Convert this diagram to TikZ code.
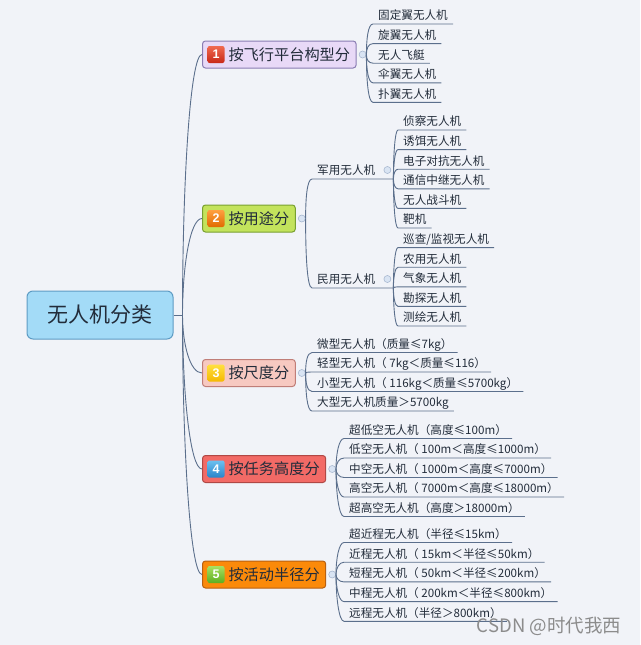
\documentclass[tikz,border=0pt]{standalone}
\usepackage{fontspec}
\setmainfont{Noto Sans CJK SC}
\newfontfamily\digitfont{Liberation Sans}
\usepackage{xcolor}
\usetikzlibrary{calc}
\definecolor{bgc}{HTML}{F1F3F8}
\definecolor{wirec}{HTML}{5B6F8C}
\definecolor{txt}{HTML}{222C3A}
\definecolor{rootfill}{HTML}{A3DBF7}
\definecolor{rootline}{HTML}{5E9CC4}
\definecolor{knobfill}{HTML}{D9E4F3}
\definecolor{knobline}{HTML}{A8B8D0}
\definecolor{fillA}{HTML}{E8D9F7}\definecolor{lineA}{HTML}{8A7DB3}
\definecolor{fillB}{HTML}{C3E35C}\definecolor{lineB}{HTML}{78A030}
\definecolor{fillC}{HTML}{F7C9C1}\definecolor{lineC}{HTML}{C07E78}
\definecolor{fillD}{HTML}{F26A66}\definecolor{lineD}{HTML}{B04845}
\definecolor{fillE}{HTML}{FB8A0A}\definecolor{lineE}{HTML}{B86010}
\definecolor{iconAt}{HTML}{F06A50}\definecolor{iconAb}{HTML}{C82818}
\definecolor{iconBt}{HTML}{FFA040}\definecolor{iconBb}{HTML}{E06A00}
\definecolor{iconCt}{HTML}{FFE040}\definecolor{iconCb}{HTML}{F5B800}
\definecolor{iconDt}{HTML}{6CC0F0}\definecolor{iconDb}{HTML}{2A84C8}
\definecolor{iconEt}{HTML}{A8E060}\definecolor{iconEb}{HTML}{5CAE20}
\newcommand{\leaffont}{\fontsize{11.6pt}{13pt}\selectfont}
\newcommand{\branchfont}{\fontsize{15.2pt}{18pt}\selectfont}
\newcommand{\rootfont}{\fontsize{21pt}{24pt}\selectfont}
\newcommand{\iconfont}{\digitfont\bfseries\fontsize{12.5pt}{13pt}\selectfont}
\newcommand{\markfont}{\fontsize{18.5pt}{20pt}\selectfont}

\begin{document}
\begin{tikzpicture}[x=1pt,y=-1pt,font=\leaffont,
  wire/.style={draw=wirec,line width=0.9pt},
  twig/.style={to path={.. controls ($(\tikztostart)!0.5!(\tikztostart|-\tikztotarget)$) and ($(\tikztotarget)+(-#1,0)$) .. (\tikztotarget)}},
  twig/.default=12,
  rootbox/.style={draw=rootline,fill=rootfill,line width=1pt,rounded corners=6pt,minimum width=146pt,minimum height=48pt,font=\rootfont,text=txt},
  branch/.style={fill=fill#1,draw=line#1,line width=1pt,rounded corners=3pt,minimum height=27pt,inner xsep=6pt,anchor=west,font=\branchfont,text=txt},
  icon/.style={top color=icon#1t,bottom color=icon#1b,rounded corners=2pt,minimum size=17pt,inner sep=0pt,text=white,font=\iconfont},
  knob/.style={circle,draw=knobline,fill=knobfill,line width=0.6pt,minimum size=7pt,inner sep=0pt},
  leaf/.style={anchor=south west,inner xsep=5pt,inner ysep=1.5pt,text height=9pt,text depth=2.5pt,text=txt}]
  \fill[bgc] (0,0) rectangle (640,645);

  % root and the five ways to sort
  \node[rootbox] (root) at (100,315) {无人机分类};
  \coordinate (rj) at ([xshift=9pt]root.east);
  \node[branch=A] (b1) at (202,54.5) {\hspace*{20pt}按飞行平台构型分};
  \node[branch=B] (b2) at (202,218.5) {\hspace*{20pt}按用途分};
  \node[branch=C] (b3) at (202,373) {\hspace*{20pt}按尺度分};
  \node[branch=D] (b4) at (202,469) {\hspace*{20pt}按任务高度分};
  \node[branch=E] (b5) at (202,574.5) {\hspace*{20pt}按活动半径分};
  \node[icon=A] (n1) at ([xshift=14pt]b1.west) {1};
  \node[icon=B] (n2) at ([xshift=14pt]b2.west) {2};
  \node[icon=C] (n3) at ([xshift=14pt]b3.west) {3};
  \node[icon=D] (n4) at ([xshift=14pt]b4.west) {4};
  \node[icon=E] (n5) at ([xshift=14pt]b5.west) {5};
  \foreach \b in {1,...,5}
    \node[knob] (k\b) at ([xshift=6pt]b\b.east) {};

  % leaves
  \foreach \t [count=\i from 0] in {固定翼无人机,旋翼无人机,无人飞艇,伞翼无人机,扑翼无人机}
    \node[leaf] (l1-\i) at (373,24+19.6*\i) {\t};
  \node[leaf] (s1) at (312,179) {军用无人机};
  \node[leaf] (s2) at (312,288) {民用无人机};
  \coordinate (s1e) at ([xshift=13pt]s1.south east);
  \coordinate (s2e) at ([xshift=13pt]s2.south east);
  \node[knob] (k6) at ([xshift=7pt,yshift=9pt]s1.south east) {};
  \node[knob] (k7) at ([xshift=7pt,yshift=9pt]s2.south east) {};
  \foreach \t [count=\i from 0] in {侦察无人机,诱饵无人机,电子对抗无人机,通信中继无人机,无人战斗机,靶机}
    \node[leaf] (l2-\i) at (398,130+19.6*\i) {\t};
  \foreach \t [count=\i from 6] in {巡查/监视无人机,农用无人机,气象无人机,勘探无人机,测绘无人机}
    \node[leaf] (l2-\i) at (398,130+19.6*\i) {\t};
  \foreach \t [count=\i from 0] in {微型无人机（质量≤7kg）,轻型无人机（ 7kg＜质量≤116）,小型无人机（ 116kg＜质量≤5700kg）,大型无人机质量＞5700kg}
    \node[leaf] (l3-\i) at (312,352.5+19.5*\i) {\t};
  \foreach \t [count=\i from 0] in {超低空无人机（高度≤100m）,低空无人机（ 100m＜高度≤1000m）,中空无人机（ 1000m＜高度≤7000m）,高空无人机（ 7000m＜高度≤18000m）,超高空无人机（高度＞18000m）}
    \node[leaf] (l4-\i) at (344,438.5+19.5*\i) {\t};
  \foreach \t [count=\i from 0] in {超近程无人机（半径≤15km）,近程无人机（ 15km＜半径≤50km）,短程无人机（ 50km＜半径≤200km）,中程无人机（ 200km＜半径≤800km）,远程无人机（半径＞800km）}
    \node[leaf] (l5-\i) at (344,542.5+19.7*\i) {\t};

  % connectors
  \draw[wire] (root.east) -- (rj);
  \foreach \b in {1,...,5}
    \draw[wire] (rj) to[twig] (b\b.west);
  \foreach \i in {0,...,4}
    \draw[wire] (k1.east) to[twig=5] (l1-\i.south west) -- (l1-\i.south east);
  \draw[wire] (k2.east) to[twig=5] (s1.south west) -- (s1e);
  \draw[wire] (k2.east) to[twig=5] (s2.south west) -- (s2e);
  \foreach \i in {0,...,5}
    \draw[wire] (s1e) to[twig=3] (l2-\i.south west) -- (l2-\i.south east);
  \foreach \i in {6,...,10}
    \draw[wire] (s2e) to[twig=3] (l2-\i.south west) -- (l2-\i.south east);
  \foreach \i in {0,...,3}
    \draw[wire] (k3.east) to[twig=5] (l3-\i.south west) -- (l3-\i.south east);
  \foreach \i in {0,...,4}
    \draw[wire] (k4.east) to[twig=5] (l4-\i.south west) -- (l4-\i.south east);
  \foreach \i in {0,...,4}
    \draw[wire] (k5.east) to[twig=5] (l5-\i.south west) -- (l5-\i.south east);

  \node[font=\markfont,text=black!45] (mark) at (549,626) {CSDN @时代我西};
\end{tikzpicture}
\end{document}
